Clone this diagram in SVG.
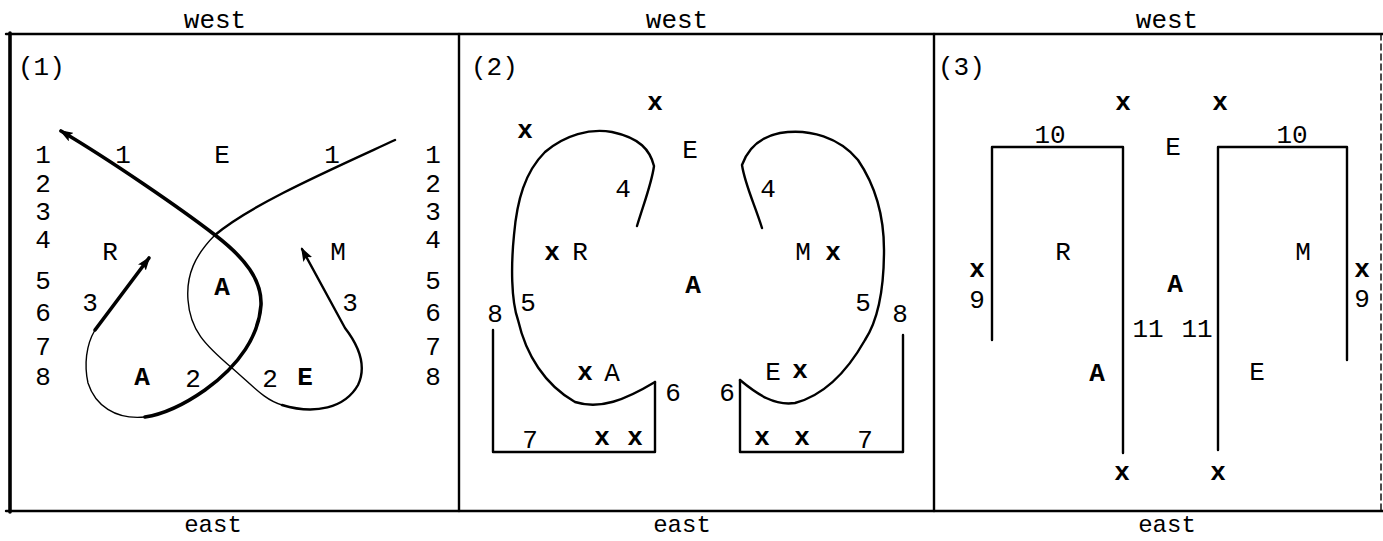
<svg xmlns="http://www.w3.org/2000/svg" width="1383" height="541" viewBox="0 0 1383 541">
<style>
text{font-family:"Liberation Mono","DejaVu Sans Mono",monospace;font-size:26px;fill:#000;text-anchor:middle}
.b{font-weight:bold}
.s{text-anchor:start}
.e{font-size:24px}
.ln{fill:none;stroke:#000;stroke-linecap:round;stroke-linejoin:round}
.w1{stroke-width:1.4}
.w2{stroke-width:2.4}
.w3{stroke-width:3.6}
</style>
<defs>
<marker id="ah" viewBox="0 0 14 10" refX="12" refY="5" markerWidth="14" markerHeight="10" markerUnits="userSpaceOnUse" orient="auto-start-reverse">
<path d="M0,0 L14,5 L0,10 L3,5 z" fill="#000"/>
</marker>
</defs>
<rect width="1383" height="541" fill="#fff"/>
<g id="frame">
<line class="ln w2" x1="6" y1="34" x2="1383" y2="34"/>
<line class="ln w2" x1="6" y1="511" x2="1383" y2="511"/>
<line class="ln w3" x1="10" y1="33" x2="10" y2="512"/>
<line class="ln w2" x1="459" y1="34" x2="459" y2="511"/>
<line class="ln w2" x1="934" y1="34" x2="934" y2="511"/>
<line class="ln" stroke-width="1.4" stroke-dasharray="6 4" x1="1381" y1="34" x2="1381" y2="511"/>
</g>
<g id="panel1">
<text x="215" y="28">west</text>
<text class="e" x="213" y="532">east</text>
<text class="s" x="18" y="75">(1)</text>
<g id="p1-curves">
<path class="ln w3" marker-start="url(#ah)" d="M61,131 C110,160 180,208 215,235 C245,258 262,280 261,305 C259,335 240,365 205,390 C185,404 165,414 145,417"/>
<path class="ln w1" d="M145,417 C115,420 95,405 88,383 C84,365 86,345 95,330"/>
<path class="ln w3" marker-end="url(#ah)" d="M95,330 L149,258"/>
<path class="ln w2" d="M395,140 C330,170 250,205 215,235"/>
<path class="ln w1" d="M215,235 C195,255 186,275 188,300 C190,330 205,345 232,368 C255,388 265,400 282,405"/>
<path class="ln w2" marker-end="url(#ah)" d="M282,405 C315,415 345,408 358,385 C366,368 362,350 345,328 L302,249"/>
</g>
<g id="p1-labels">
<text x="123" y="163">1</text>
<text x="222" y="163">E</text>
<text x="332" y="163">1</text>
<text x="110" y="260">R</text>
<text x="338" y="260">M</text>
<text class="b" x="222" y="295">A</text>
<text x="90" y="311">3</text>
<text x="350" y="311">3</text>
<text class="b" x="142" y="385">A</text>
<text x="193" y="387">2</text>
<text x="270" y="387">2</text>
<text class="b" x="305" y="385">E</text>
</g>
<g id="p1-left-col">
<text x="43" y="163">1</text>
<text x="43" y="192">2</text>
<text x="43" y="220">3</text>
<text x="43" y="248">4</text>
<text x="43" y="289">5</text>
<text x="43" y="321">6</text>
<text x="43" y="355">7</text>
<text x="43" y="385">8</text>
</g>
<g id="p1-right-col">
<text x="433" y="163">1</text>
<text x="433" y="192">2</text>
<text x="433" y="220">3</text>
<text x="433" y="248">4</text>
<text x="433" y="289">5</text>
<text x="433" y="321">6</text>
<text x="433" y="355">7</text>
<text x="433" y="385">8</text>
</g>
</g>
<g id="panel2">
<text x="677" y="28">west</text>
<text class="e" x="682" y="532">east</text>
<text class="s" x="471" y="75">(2)</text>
<g id="p2-curves">
<path class="ln w2" d="M637,226 C645,200 652,182 654,166 C650,150 640,138 612,132 C590,128 565,135 545,152 C525,172 517,200 514,235 C511,265 511,300 518,320 C526,355 545,385 575,402 C600,410 625,400 655,382"/>
<path class="ln w2" d="M655,382 L655,452 L493,452 L493,330"/>
<path class="ln w2" d="M762,228 C755,205 745,185 742,165 C748,148 760,137 780,133 C810,128 840,138 858,160 C875,185 884,215 884,250 C884,290 878,320 865,340 C848,370 825,395 795,403 C775,406 758,395 740,380"/>
<path class="ln w2" d="M740,380 L740,452 L903,452 L903,335"/>
</g>
<g id="p2-labels">
<text class="b" x="655" y="110">x</text>
<text class="b" x="525" y="138">x</text>
<text x="690" y="158">E</text>
<text x="623" y="197">4</text>
<text x="768" y="197">4</text>
<text class="b" x="552" y="260">x</text>
<text x="580" y="260">R</text>
<text x="803" y="260">M</text>
<text class="b" x="833" y="260">x</text>
<text class="b" x="693" y="293">A</text>
<text x="528" y="311">5</text>
<text x="495" y="322">8</text>
<text x="863" y="311">5</text>
<text x="900" y="322">8</text>
<text class="b" x="585" y="380">x</text>
<text x="612" y="381">A</text>
<text x="773" y="380">E</text>
<text class="b" x="800" y="378">x</text>
<text x="673" y="401">6</text>
<text x="727" y="401">6</text>
<text x="530" y="448">7</text>
<text class="b" x="602" y="445">x</text>
<text class="b" x="635" y="445">x</text>
<text class="b" x="762" y="445">x</text>
<text class="b" x="802" y="445">x</text>
<text x="865" y="448">7</text>
</g>
</g>
<g id="panel3">
<text x="1167" y="28">west</text>
<text class="e" x="1167" y="532">east</text>
<text class="s" x="938" y="75">(3)</text>
<g id="p3-walls">
<path class="ln w2" d="M992,340 L992,147 L1123,147 L1123,453"/>
<path class="ln w2" d="M1218,450 L1218,147 L1347,147 L1347,360"/>
</g>
<g id="p3-labels">
<text class="b" x="1123" y="110">x</text>
<text class="b" x="1220" y="110">x</text>
<text x="1050" y="143">10</text>
<text x="1292" y="143">10</text>
<text x="1173" y="155">E</text>
<text x="1063" y="260">R</text>
<text x="1303" y="260">M</text>
<text class="b" x="977" y="277">x</text>
<text x="977" y="308">9</text>
<text class="b" x="1362" y="277">x</text>
<text x="1362" y="307">9</text>
<text class="b" x="1175" y="292">A</text>
<text x="1148" y="337">11</text>
<text x="1197" y="337">11</text>
<text class="b" x="1097" y="381">A</text>
<text x="1257" y="380">E</text>
<text class="b" x="1122" y="480">x</text>
<text class="b" x="1218" y="480">x</text>
</g>
</g>
</svg>
